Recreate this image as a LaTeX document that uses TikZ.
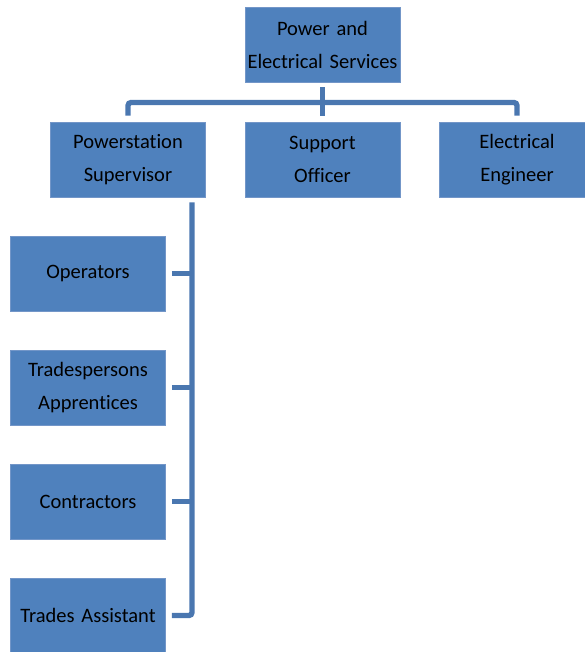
\documentclass[tikz,border=0pt]{standalone}
\usepackage{fontspec}
\setmainfont{Carlito}[Ligatures=NoCommon]
\usetikzlibrary{positioning}
\definecolor{boxblue}{HTML}{4F81BD}
\definecolor{boxedge}{HTML}{7396C8}
\definecolor{linkblue}{HTML}{4A77B0}
\tikzset{
  unit/.style={fill=boxblue, draw=boxedge, line width=0.6pt, minimum width=155pt,
    minimum height=75pt, text width=150pt, align=center, inner sep=0pt,
    font=\fontsize{20.5}{33}\selectfont},
  link/.style={draw=linkblue, line width=5.3pt, rounded corners=3pt}
}
\begin{document}
\begin{tikzpicture}[x=1pt,y=-1pt]
    % page in pixel units, y pointing down
    \useasboundingbox (0,0) rectangle (585,652);
    \clip (0,0) rectangle (585,652);

    % top level
    \node[unit] (pes) at (322.5,44.5) {Power and\\Electrical Services};

    % second row
    \node[unit] (pss) at (128,159.5) {Powerstation\\Supervisor};
    \node[unit] (so) at (322.5,159.5) {Support\\Officer};
    \node[unit] (ee) at (517,159.5) {Electrical\\Engineer};

    % staff under the supervisor
    \node[unit] (op) at (88,273.5) {Operators};
    \node[unit] (tp) at (88,387.5) {Tradespersons\\Apprentices};
    \node[unit] (co) at (88,501.5) {Contractors};
    \node[unit] (ta) at (88,615.5) {Trades Assistant};

    % connectors
    \coordinate (bus) at (322.5,102.5);
    \coordinate (trunk) at ([shift={(64pt,-5pt)}]pss.south);

    \draw[link] ([yshift=-5pt]pes.south) -- ([yshift=6pt]so.north);
    \draw[link] ([yshift=6pt]pss.north) -- (pss.north |- bus) -- (ee.north |- bus) -- ([yshift=6pt]ee.north);

    \draw[link] (trunk) |- ([xshift=6pt]ta.east);
    \draw[link] ([xshift=6pt]op.east) -- (op.east -| trunk);
    \draw[link] ([xshift=6pt]tp.east) -- (tp.east -| trunk);
    \draw[link] ([xshift=6pt]co.east) -- (co.east -| trunk);
\end{tikzpicture}
\end{document}
